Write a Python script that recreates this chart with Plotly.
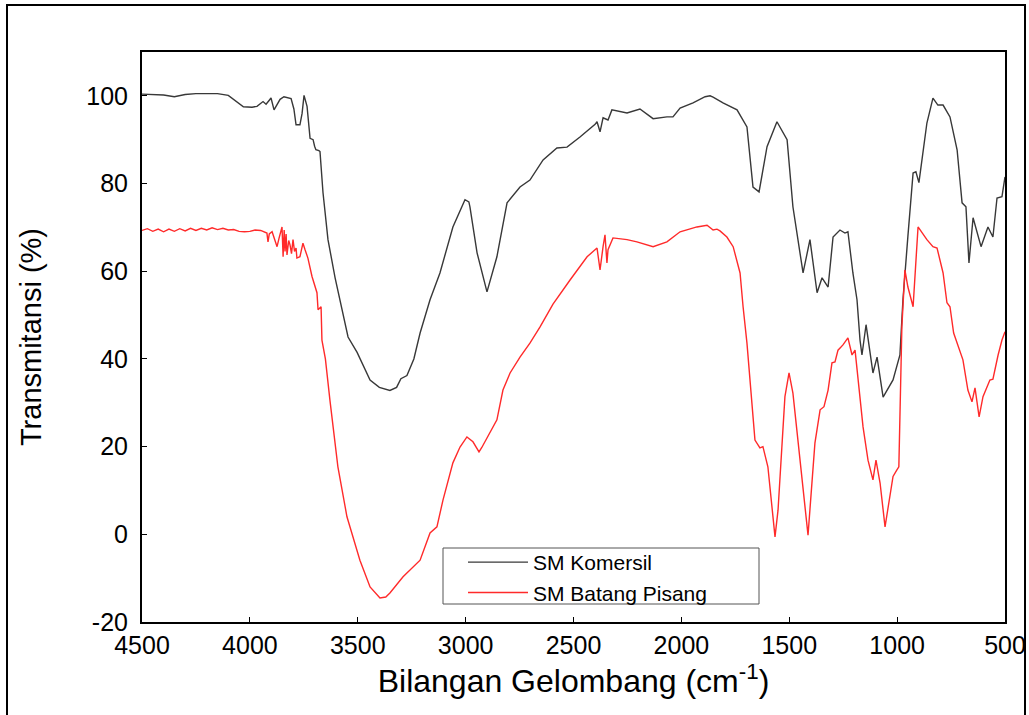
import plotly.graph_objects as go

# --- data ---
komersil_x = [4500, 4450, 4400, 4350, 4300, 4250, 4200, 4150, 4100, 4060, 4030, 3990, 3967, 3939, 3925,
              3910, 3902, 3888, 3875, 3860, 3842, 3825, 3809, 3796, 3786, 3768, 3758, 3749, 3735, 3721,
              3707, 3700, 3694, 3680, 3675, 3661, 3638, 3605, 3582, 3545, 3503, 3443, 3400, 3351, 3320,
              3300, 3272, 3240, 3211, 3165, 3119, 3059, 3003, 2985, 2980, 2947, 2901, 2855, 2808, 2748,
              2702, 2641, 2577, 2530, 2470, 2400, 2391, 2377, 2363, 2340, 2322, 2252, 2192, 2131, 2067,
              2039, 2006, 1946, 1890, 1867, 1853, 1821, 1807, 1742, 1696, 1668, 1640, 1603, 1557, 1510,
              1483, 1436, 1404, 1371, 1348, 1320, 1297, 1265, 1242, 1228, 1205, 1186, 1172, 1163, 1144,
              1112, 1093, 1065, 1038, 1019, 987, 973, 950, 926, 913, 899, 862, 834, 811, 787, 755, 722,
              699, 681, 667, 648, 611, 579, 556, 537, 514, 500]
komersil_y = [100.4, 100.3, 100.2, 99.8, 100.3, 100.5, 100.5, 100.5, 100.1, 98.5, 97.5, 97.4, 97.6, 98.7, 98.1,
              99.0, 99.5, 96.8, 98.0, 99.2, 99.8, 99.6, 99.4, 97.0, 93.4, 93.4, 96.0, 100.1, 97.6, 90.3,
              90.0, 88.5, 87.7, 87.5, 87.3, 77.9, 67.2, 58.5, 53.5, 45.0, 41.5, 35.2, 33.5, 32.8, 33.5,
              35.5, 36.2, 40.0, 45.9, 53.5, 59.6, 70.1, 76.3, 75.8, 74.7, 64.2, 55.3, 63.3, 75.6, 79.2,
              80.8, 85.4, 88.1, 88.3, 90.6, 93.5, 94.1, 91.8, 95.0, 94.5, 96.8, 96.1, 97.0, 94.8, 95.2,
              95.2, 97.2, 98.4, 99.8, 100.0, 99.7, 98.7, 98.4, 96.8, 92.9, 79.2, 78.1, 88.4, 94.1, 90.0,
              74.7, 59.6, 67.2, 55.1, 58.5, 56.4, 67.8, 69.4, 68.7, 69.0, 59.6, 53.5, 44.3, 40.9, 47.8,
              36.8, 40.4, 31.3, 33.6, 35.2, 40.9, 53.5, 68.0, 82.4, 82.7, 80.2, 93.8, 99.5, 97.9, 97.9, 95.2, 87.7,
              75.6, 74.7, 61.9, 72.2, 65.6, 70.1, 67.8, 76.7, 77.0, 81.5]

pisang_x = [4500, 4475, 4450, 4425, 4400, 4375, 4350, 4325, 4300, 4275, 4250, 4225, 4200, 4175, 4150,
            4125, 4100, 4075, 4050, 4025, 4000, 3976, 3950, 3930, 3921, 3916, 3910, 3897, 3884, 3874,
            3865, 3851, 3846, 3841, 3837, 3832, 3828, 3820, 3814, 3807, 3800, 3793, 3786, 3782, 3768,
            3754, 3745, 3731, 3712, 3698, 3689, 3684, 3670, 3666, 3650, 3629, 3592, 3550, 3490, 3443,
            3397, 3370, 3351, 3290, 3211, 3165, 3133, 3105, 3059, 3026, 2994, 2966, 2945, 2938, 2925,
            2910, 2855, 2827, 2794, 2748, 2702, 2655, 2595, 2516, 2437, 2391, 2377, 2363, 2354, 2345,
            2340, 2317, 2252, 2206, 2131, 2067, 2006, 1928, 1881, 1853, 1835, 1821, 1789, 1760, 1728,
            1714, 1696, 1659, 1636, 1622, 1599, 1566, 1552, 1520, 1501, 1483, 1441, 1413, 1381, 1357,
            1339, 1320, 1302, 1288, 1274, 1251, 1228, 1209, 1195, 1177, 1158, 1135, 1112, 1098, 1079,
            1056, 1042, 1019, 1001, 992, 978, 964, 950, 926, 903, 885, 862, 834, 815, 787, 769, 755,
            738, 695, 672, 653, 639, 620, 602, 570, 556, 532, 514, 500]
pisang_y = [69.3, 69.7, 69.1, 69.6, 69.0, 69.6, 69.1, 69.7, 69.2, 69.8, 69.3, 69.8, 69.4, 69.9, 69.5,
            69.8, 69.4, 69.5, 69.1, 69.0, 69.1, 69.4, 69.3, 69.0, 68.7, 66.7, 68.5, 69.0, 67.0, 65.6,
            67.5, 70.1, 63.3, 69.4, 64.5, 68.5, 63.7, 67.0, 66.0, 64.0, 67.2, 64.5, 65.3, 63.0, 63.3,
            66.4, 65.0, 63.0, 58.8, 56.2, 55.1, 51.2, 51.9, 44.3, 40.0, 30.6, 15.4, 4.0, -5.9, -12.0,
            -14.5, -14.3, -13.4, -9.7, -5.9, 0.3, 1.7, 7.8, 16.3, 19.9, 22.2, 21.1, 19.5, 18.8, 19.8,
            21.1, 26.1, 32.9, 36.8, 40.4, 43.6, 47.3, 52.5, 58.0, 63.3, 65.3, 60.3, 65.6, 68.3, 61.9,
            64.9, 67.6, 67.2, 66.7, 65.6, 66.7, 69.0, 70.1, 70.5, 69.4, 69.6, 69.2, 67.8, 65.6, 59.6,
            51.9, 43.6, 21.5, 19.7, 20.0, 15.4, -0.6, 5.5, 31.4, 36.8, 32.2, 13.2, -0.2, 20.8, 28.4,
            29.1, 32.9, 39.1, 39.3, 42.0, 43.2, 44.8, 40.9, 42.0, 33.6, 24.5, 16.9, 12.4, 16.9, 11.7,
            1.7, 6.3, 13.2, 14.7, 15.4, 47.3, 60.3, 56.4, 51.9, 70.1, 68.7, 67.2, 65.6, 65.3, 59.6, 52.8, 51.9,
            45.9, 39.8, 32.9, 30.2, 33.4, 26.8, 31.4, 35.2, 35.4, 40.9, 44.3, 46.2]

series_names = ["SM Komersil", "SM Batang Pisang"]
x_tick_vals = [4500, 4000, 3500, 3000, 2500, 2000, 1500, 1000, 500]
x_tick_text = ["4500", "4000", "3500", "3000", "2500", "2000", "1500", "1000", "500"]
y_tick_vals = [-20, 0, 20, 40, 60, 80, 100]
y_tick_text = ["-20", "0", "20", "40", "60", "80", "100"]

FONT = "Arial, Liberation Sans, sans-serif"

W, H = 1029, 715
L, R, T, B = 142, 1005, 52, 622   # plot area in screen pixels

def fx(p):
    return (p - L) / (R - L)
def fy(p):
    return (B - p) / (B - T)

fig = go.Figure()
fig.add_trace(go.Scatter(x=komersil_x, y=komersil_y, mode="lines", name=series_names[0],
                         line=dict(color="#383838", width=1.4)))
fig.add_trace(go.Scatter(x=pisang_x, y=pisang_y, mode="lines", name=series_names[1],
                         line=dict(color="#ff2a2a", width=1.4)))

# outer picture frame
fig.add_shape(type="rect", xref="paper", yref="paper",
              x0=fx(7), x1=fx(1025), y0=fy(740), y1=fy(5),
              line=dict(color="black", width=2), fillcolor="rgba(0,0,0,0)", layer="below")
# legend frame
fig.add_shape(type="rect", xref="paper", yref="paper",
              x0=fx(443), x1=fx(759), y0=fy(604), y1=fy(548),
              line=dict(color="#555", width=1), fillcolor="white", layer="below")

fig.update_layout(
    width=W, height=H,
    margin=dict(l=L, r=W - R, t=T, b=H - B, autoexpand=False),
    paper_bgcolor="white", plot_bgcolor="white",
    font=dict(family=FONT, color="black"),
    showlegend=True,
    legend=dict(x=fx(463), y=fy(542), xanchor="left", yanchor="top",
                bgcolor="rgba(0,0,0,0)", borderwidth=0,
                font=dict(size=21, family=FONT, color="black"),
                tracegroupgap=0, itemwidth=60),
    xaxis=dict(range=[4500, 500], tickvals=x_tick_vals, ticktext=x_tick_text,
               automargin=False,
               showgrid=False, zeroline=False, showline=True, linecolor="black", linewidth=2,
               mirror=True, ticks="inside", ticklen=5, tickcolor="black",
               ticklabeloverflow="allow",
               tickfont=dict(size=25, family=FONT),
               title=dict(text="Bilangan Gelombang (cm<sup>-1</sup>)", font=dict(size=32, family=FONT),
                          standoff=8)),
    yaxis=dict(range=[-20, 110], tickvals=y_tick_vals, ticktext=y_tick_text,
               automargin=False,
               showgrid=False, zeroline=False, showline=True, linecolor="black", linewidth=2,
               mirror=True, ticks="inside", ticklen=5, tickcolor="black",
               tickfont=dict(size=25, family=FONT), ticklabelstandoff=7,
               title=dict(text="Transmitansi (%)", font=dict(size=29, family=FONT), standoff=36)),
)

fig.write_html("out.html", config={"displayModeBar": False},
               post_script="document.body.style.margin='0';document.body.style.overflow='hidden';")
